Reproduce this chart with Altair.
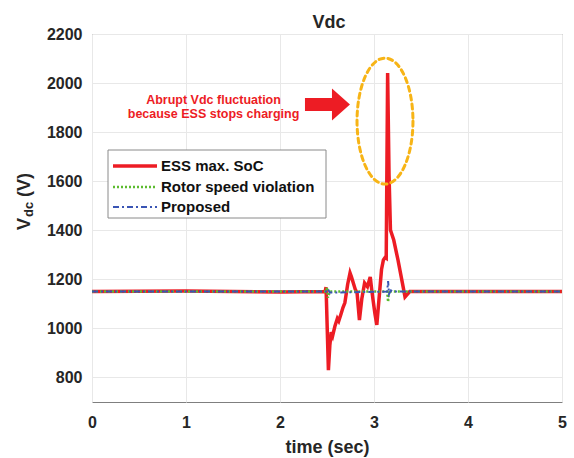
import altair as alt
import pandas as pd

# ---------------- data ----------------
t_ess = [0.00, 1.00, 2.00, 2.48, 2.49, 2.515, 2.53, 2.545, 2.56, 2.585, 2.61, 2.625,
         2.65, 2.67, 2.69, 2.72, 2.745, 2.76, 2.78, 2.80, 2.82, 2.845, 2.87, 2.90,
         2.93, 2.96, 2.975, 2.99, 3.01, 3.03, 3.06, 3.08, 3.10, 3.12, 3.13, 3.145,
         3.16, 3.175, 3.21, 3.255, 3.31, 3.33, 3.38, 4.00, 5.00]
v_ess = [1150, 1152, 1148, 1150, 1168, 830, 930, 985, 970, 1010, 1040, 1030,
         1060, 1085, 1104, 1180, 1226, 1210, 1185, 1160, 1144, 1034, 1120, 1185,
         1170, 1210, 1160, 1116, 1060, 1014, 1150, 1240, 1279, 1290, 1287, 2041,
         1625, 1401, 1360, 1279, 1169, 1128, 1150, 1150, 1150]

t_rotor = [0.00, 2.49, 2.50, 2.51, 2.53, 3.14, 3.15, 3.16, 3.18, 5.00]
v_rotor = [1150, 1150, 1168, 1125, 1150, 1150, 1108, 1155, 1150, 1150]

t_prop = [0.00, 2.50, 2.51, 2.53, 3.14, 3.15, 3.16, 3.18, 3.20, 5.00]
v_prop = [1150, 1150, 1160, 1146, 1150, 1193, 1140, 1155, 1150, 1150]

series_names = ["ESS max. SoC", "Rotor speed violation", "Proposed"]
x_ticks = [0, 1, 2, 3, 4, 5]
y_ticks = [800, 1000, 1200, 1400, 1600, 1800, 2000, 2200]

note_lines = ["Abrupt Vdc fluctuation", "because ESS stops charging"]

FONT = "Liberation Sans"
RED = "#ED1C24"
GREEN = "#5DBB2F"
BLUE = "#3A55B4"
ORANGE = "#F7B416"

x_enc = alt.X("t:Q", scale=alt.Scale(domain=[0, 5], nice=False),
              axis=alt.Axis(values=x_ticks, format="d", title="time (sec)",
                            grid=True, gridColor="#e8e8e8", domain=False,
                            ticks=False, tickSize=0, labelFlush=False,
                            labelPadding=12, labelFont=FONT, labelFontSize=16,
                            labelFontWeight="bold", labelColor="#262626",
                            titleFont=FONT, titleFontSize=18, titleFontWeight="bold",
                            titleColor="#262626", titlePadding=8))
y_enc = alt.Y("v:Q", scale=alt.Scale(domain=[700, 2200], nice=False),
              axis=alt.Axis(values=y_ticks, format="d", title=None,
                            grid=True, gridColor="#e8e8e8", domain=False,
                            ticks=False, tickSize=0, labelFlush=False,
                            labelPadding=10, labelFont=FONT, labelFontSize=16,
                            labelFontWeight="bold", labelColor="#262626"))

df_ess = pd.DataFrame({"t": t_ess, "v": v_ess})
df_rotor = pd.DataFrame({"t": t_rotor, "v": v_rotor})
df_prop = pd.DataFrame({"t": t_prop, "v": v_prop})

ess = alt.Chart(df_ess).mark_line(color=RED, strokeWidth=3.5).encode(x=x_enc, y=y_enc)
rotor = alt.Chart(df_rotor).mark_line(color=GREEN, strokeWidth=2.5,
                                      strokeDash=[2, 2]).encode(x=x_enc, y=y_enc)
prop = alt.Chart(df_prop).mark_line(color=BLUE, strokeWidth=2,
                                    strokeDash=[6, 3, 2, 3]).encode(x=x_enc, y=y_enc)

# ---------------- annotations ----------------
ellipse_path = ("M 0.444 0 C 0.444 0.5523 0.2452 1 0 1 C -0.2452 1 -0.444 0.5523 -0.444 0 "
                "C -0.444 -0.5523 -0.2452 -1 0 -1 C 0.2452 -1 0.444 -0.5523 0.444 0 Z")
arrow_path = "M -1 -0.29 L 0.2 -0.29 L 0.2 -0.71 L 1 0 L 0.2 0.71 L 0.2 0.29 L -1 0.29 Z"

ellipse = alt.Chart(pd.DataFrame({"t": [3.117], "v": [1845]})).mark_point(
    shape=ellipse_path, size=15876, filled=False, fill=None, stroke=ORANGE,
    strokeWidth=3, strokeDash=[5, 4], strokeCap="round", opacity=1
).encode(x=alt.X("t:Q"), y=alt.Y("v:Q"))

arrow = alt.Chart(pd.DataFrame({"t": [2.505], "v": [1913]})).mark_point(
    shape=arrow_path, size=2025, filled=True, fill=RED, strokeWidth=0, opacity=1
).encode(x=alt.X("t:Q"), y=alt.Y("v:Q"))

note = alt.Chart(pd.DataFrame({"t": [1.293, 1.293], "v": [1915, 1858],
                               "txt": note_lines})).mark_text(
    font=FONT, fontSize=12.5, fontWeight="bold", color=RED, align="center",
    baseline="alphabetic"
).encode(x=alt.X("t:Q"), y=alt.Y("v:Q"), text="txt:N")

one = alt.Data(values=[{"k": 1}])


def label(txt, x, y, size, angle=0, align="left", baseline="alphabetic", color="#262626"):
    kw = dict(text=txt, font=FONT, fontSize=size, fontWeight="bold", color=color,
              align=align, baseline=baseline)
    if angle:
        kw["angle"] = angle
    return alt.Chart(one).mark_text(**kw).encode(x=alt.value(x), y=alt.value(y))


title = label("Vdc", 237, -6, 18, align="center")
ytitle = (label("V", -62, 196, 18, angle=270)
          + label("dc", -59, 183, 13, angle=270)
          + label("(V)", -62, 163, 18, angle=270))

# ---------------- legend (drawn by hand) ----------------
leg_box = alt.Chart(one).mark_rect(fill="white", stroke="#8a8a8a", strokeWidth=1).encode(
    x=alt.value(16), x2=alt.value(234), y=alt.value(116), y2=alt.value(184))

styles = [dict(color=RED, strokeWidth=3.5),
          dict(color=GREEN, strokeWidth=2.5, strokeDash=[2, 2]),
          dict(color=BLUE, strokeWidth=2, strokeDash=[6, 3, 2, 3])]
row_y = [132, 153, 173]
leg_layers = [leg_box]
for name, st, ry in zip(series_names, styles, row_y):
    leg_layers.append(alt.Chart(one).mark_rule(**st).encode(
        x=alt.value(21), x2=alt.value(65), y=alt.value(ry)))
    leg_layers.append(label(name, 69, ry, 15, baseline="middle", color="#111111"))

chart = alt.layer(ess, rotor, prop, ellipse, arrow, note, title, ytitle,
                  *leg_layers).properties(
    width=470, height=368, autosize="none",
    padding={"left": 92, "top": 34, "right": 12, "bottom": 56},
    background="white"
).configure_view(stroke="#7f7f7f", strokeWidth=1)

chart.save("out.html", embed_options={"renderer": "svg", "actions": False})
